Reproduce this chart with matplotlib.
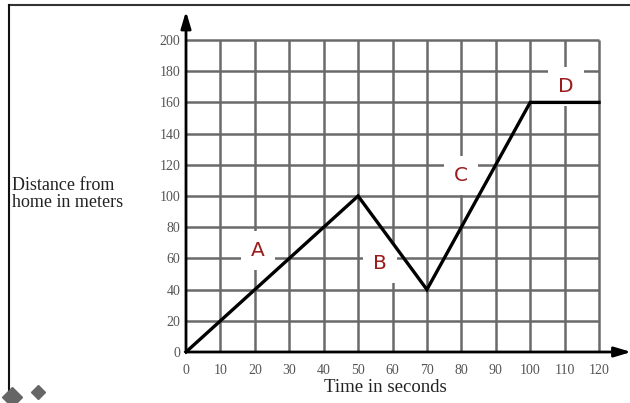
import matplotlib
matplotlib.use("Agg")
import matplotlib.pyplot as plt
from matplotlib.lines import Line2D

# -------------------------------
# Dati
# -------------------------------
time_s = [0, 50, 70, 100, 120]
distance_m = [0, 100, 40, 160, 160]

x_ticks = [0, 10, 20, 30, 40, 50, 60, 70, 80, 90, 100, 110, 120]
y_ticks = [0, 20, 40, 60, 80, 100, 120, 140, 160, 180, 200]

seg_labels = ["A", "B", "C", "D"]
seg_x = [20.8, 56.4, 80.0, 110.5]
seg_y = [65, 57, 113, 170]

# -------------------------------
# Figura
# -------------------------------
fig = plt.figure(figsize=(6.3, 4.03), dpi=100)
ax = fig.add_axes([186 / 630, 51 / 403, 413 / 630, 312 / 403])
ax.set_xlim(0, 120)
ax.set_ylim(0, 200)
for s in ax.spines.values():
    s.set_visible(False)

# griglia
ax.vlines(x_ticks[1:], 0, 200, color="#6a6a6a", lw=1.8, clip_on=False, zorder=1)
ax.hlines(y_ticks[1:], 0, 120, color="#6a6a6a", lw=1.8, clip_on=False, zorder=1)

# assi con frecce
ax.annotate("", xy=(1.078, 0), xytext=(0, 0), xycoords="axes fraction",
            arrowprops=dict(arrowstyle="-|>,head_length=1.0,head_width=0.3",
                            color="black", lw=2, shrinkA=0, shrinkB=0),
            annotation_clip=False, zorder=3)
ax.annotate("", xy=(0, 1.092), xytext=(0, 0), xycoords="axes fraction",
            arrowprops=dict(arrowstyle="-|>,head_length=1.0,head_width=0.3",
                            color="black", lw=2, shrinkA=0, shrinkB=0),
            annotation_clip=False, zorder=3)

# linea distanza
ax.plot(time_s, distance_m, color="black", lw=2.4, clip_on=False, zorder=4,
        solid_joinstyle="miter")

# etichette segmenti (sotto la linea)
for lab, x, y in zip(seg_labels, seg_x, seg_y):
    ax.text(x, y, lab, ha="center", va="center", fontsize=14.5, color="#9b1c1c",
            family="DejaVu Sans", zorder=3.5,
            bbox=dict(boxstyle="square,pad=0.5", fc="white", ec="none"))

# tick
ax.set_xticks(x_ticks)
ax.set_yticks(y_ticks)
ax.tick_params(length=0, labelsize=10, labelcolor="#555555")
ax.tick_params(axis="x", pad=9)
ax.tick_params(axis="y", pad=4)
for t in ax.get_xticklabels() + ax.get_yticklabels():
    t.set_family("Liberation Serif")

fig.text(385 / 630, 1 - 388 / 403, "Time in seconds", ha="center", va="center",
         fontsize=13.5, family="Liberation Serif", color="#222222")
fig.text(12 / 630, 1 - 194 / 403, "Distance from\nhome in meters", ha="left",
         va="center", fontsize=13, family="Liberation Serif", color="#222222",
         linespacing=1.05)

# cornice
fig.add_artist(Line2D([9 / 630, 1], [1 - 5 / 403, 1 - 5 / 403],
                      transform=fig.transFigure, color="#333333", lw=1.5))
fig.add_artist(Line2D([9 / 630, 9 / 630], [0, 1 - 5 / 403],
                      transform=fig.transFigure, color="#111111", lw=1.5))

# decorazioni in basso a sinistra
fig.add_artist(Line2D([38 / 630], [1 - 392 / 403], transform=fig.transFigure,
                      marker="D", markersize=7, color="#666666", lw=0))
fig.add_artist(Line2D([12 / 630], [1 - 397 / 403], transform=fig.transFigure,
                      marker="D", markersize=10, color="#666666", lw=0))

fig.savefig("out.png", dpi=100)
